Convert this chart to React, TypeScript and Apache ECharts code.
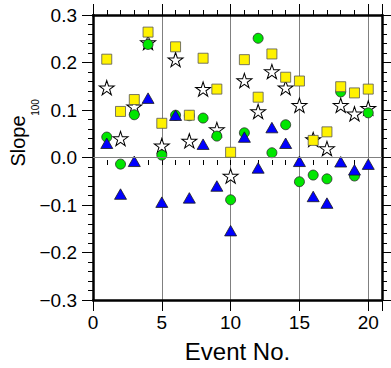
import React, { useEffect, useRef } from "react";
import * as echarts from "echarts";

const events = [1, 2, 3, 4, 5, 6, 7, 8, 9, 10, 11, 12, 13, 14, 15, 16, 17, 18, 19, 20];
const squares = [0.207, 0.097, 0.122, 0.264, 0.072, 0.233, 0.089, 0.209, 0.144, 0.011, 0.206, 0.127, 0.218, 0.169, 0.161, 0.036, 0.054, 0.149, 0.136, 0.144];
const stars = [0.147, 0.040, 0.107, 0.242, 0.025, 0.206, 0.035, 0.144, 0.059, -0.039, 0.162, 0.097, 0.181, 0.147, 0.110, 0.038, 0.019, 0.110, 0.092, 0.104];
const circles = [0.043, -0.014, 0.090, 0.238, 0.005, 0.089, 0.088, 0.083, 0.045, -0.089, 0.052, 0.251, 0.010, 0.069, -0.051, -0.037, -0.045, 0.138, -0.039, 0.094];
const triangles = [0.030, -0.077, -0.008, 0.125, -0.094, 0.089, -0.085, 0.028, -0.060, -0.154, 0.043, -0.022, 0.063, 0.030, -0.008, -0.082, -0.096, -0.009, -0.026, -0.014];
const xLabels = ["0", "5", "10", "15", "20"];

const STAR =
  "path://M50 0 L61.23 34.55 L97.55 34.55 L68.17 55.9 L79.39 90.45 L50 69.1 L20.61 90.45 L31.83 55.9 L2.45 34.55 L38.77 34.55 Z";
const FONT = "'Liberation Sans', Arial, Helvetica, sans-serif";

function pairs(vals: number[]) {
  return events.map((e, i) => [e, vals[i]]);
}

export default function App() {
  const ref = useRef<HTMLDivElement>(null);
  useEffect(() => {
    if (!ref.current) return;
    const chart = echarts.init(ref.current, undefined, { renderer: "svg" });
    const gridRect = { left: 93, right: 9, top: 15, bottom: 63 };
    const axisLine = { show: true, onZero: false, lineStyle: { color: "#000", width: 2.5 } };
    const majorTick = { show: true, inside: false, length: 11, lineStyle: { color: "#000", width: 1 } };
    const minorTickX = { show: true, inside: false, length: 5, lineStyle: { color: "#000", width: 1 } };
    chart.setOption({
      animation: false,
      grid: [
        { ...gridRect },
        { ...gridRect },
      ],
      xAxis: [
        {
          type: "value", gridIndex: 0, position: "bottom", min: 0, max: 21, interval: 5,
          axisLine, axisTick: majorTick,
          axisLabel: {
            color: "#000", fontSize: 19, fontFamily: FONT, margin: 13,
            formatter: (v: number) => (v % 5 === 0 ? xLabels[v / 5] : ""),
          },
          splitLine: { show: true, lineStyle: { color: "#808080", width: 1 } },
          name: "Event No.", nameLocation: "middle", nameGap: 39,
          nameTextStyle: { color: "#000", fontSize: 24, fontFamily: FONT },
        },
        {
          type: "value", gridIndex: 0, position: "top", min: 0, max: 21, interval: 5,
          axisLine, axisTick: majorTick, axisLabel: { show: false }, splitLine: { show: false },
        },
        {
          type: "value", gridIndex: 1, position: "bottom", min: 0, max: 21, interval: 1,
          axisLine: { show: false }, axisTick: minorTickX, axisLabel: { show: false }, splitLine: { show: false },
        },
        {
          type: "value", gridIndex: 1, position: "top", min: 0, max: 21, interval: 1,
          axisLine: { show: false }, axisTick: minorTickX, axisLabel: { show: false }, splitLine: { show: false },
        },
      ],
      yAxis: [
        {
          type: "value", gridIndex: 0, position: "left", min: -0.3, max: 0.3, interval: 0.1,
          axisLine, axisTick: majorTick,
          minorTick: { show: true, splitNumber: 5, length: 5, lineStyle: { color: "#000", width: 1 } },
          axisLabel: {
            color: "#000", fontSize: 19, fontFamily: FONT, margin: 16,
            formatter: (v: number) => {
              const r = Math.round(v * 10) / 10;
              if (r === 0) return "0.0";
              return (r < 0 ? "\u2212" : "") + Math.abs(r).toFixed(1);
            },
          },
          splitLine: { show: false },
        },
        {
          type: "value", gridIndex: 0, position: "right", min: -0.3, max: 0.3, interval: 0.1,
          axisLine, axisTick: majorTick,
          minorTick: { show: true, splitNumber: 5, length: 5, lineStyle: { color: "#000", width: 1 } },
          axisLabel: { show: false }, splitLine: { show: false },
        },
        { type: "value", gridIndex: 1, show: false, min: -0.3, max: 0.3 },
      ],
      graphic: [
        {
          type: "text", x: 18, y: 141, rotation: Math.PI / 2,
          style: { text: "Slope", fontSize: 20, fontFamily: FONT, fill: "#000", align: "center", verticalAlign: "middle" },
        },
        {
          type: "text", x: 35, y: 107.5, rotation: Math.PI / 2,
          style: { text: "100", fontSize: 10, fontFamily: FONT, fill: "#000", align: "center", verticalAlign: "middle" },
        },
      ],
      series: [
        {
          type: "scatter", xAxisIndex: 0, yAxisIndex: 0, data: [], z: 1, silent: true,
          markLine: {
            silent: true, symbol: "none", label: { show: false },
            lineStyle: { color: "#808080", width: 1, type: "solid" },
            data: [{ yAxis: 0 }],
          },
        },
        {
          type: "scatter", xAxisIndex: 0, yAxisIndex: 0, data: pairs(stars), z: 2,
          symbol: STAR, symbolSize: [15, 14.3],
          itemStyle: { color: "#fff", borderColor: "#000", borderWidth: 1, opacity: 1 },
        },
        {
          type: "scatter", xAxisIndex: 0, yAxisIndex: 0, data: pairs(circles), z: 3,
          symbol: "circle", symbolSize: 10,
          itemStyle: { color: "#00E600", borderColor: "#2a2a2a", borderWidth: 0.8, opacity: 1 },
        },
        {
          type: "scatter", xAxisIndex: 0, yAxisIndex: 0, data: pairs(triangles), z: 4,
          symbol: "triangle", symbolSize: [12, 10.5],
          itemStyle: { color: "#0000FF", borderColor: "#1a1a1a", borderWidth: 0.8, opacity: 1 },
        },
        {
          type: "scatter", xAxisIndex: 0, yAxisIndex: 0, data: pairs(squares), z: 5,
          symbol: "rect", symbolSize: 10,
          itemStyle: { color: "#FFF200", borderColor: "#555", borderWidth: 0.8, opacity: 1 },
        },
      ],
    });
    return () => chart.dispose();
  }, []);
  return (
    <div
      ref={ref}
      style={{ position: "fixed", left: 0, top: 0, width: 391, height: 368, background: "#fff" }}
    />
  );
}
